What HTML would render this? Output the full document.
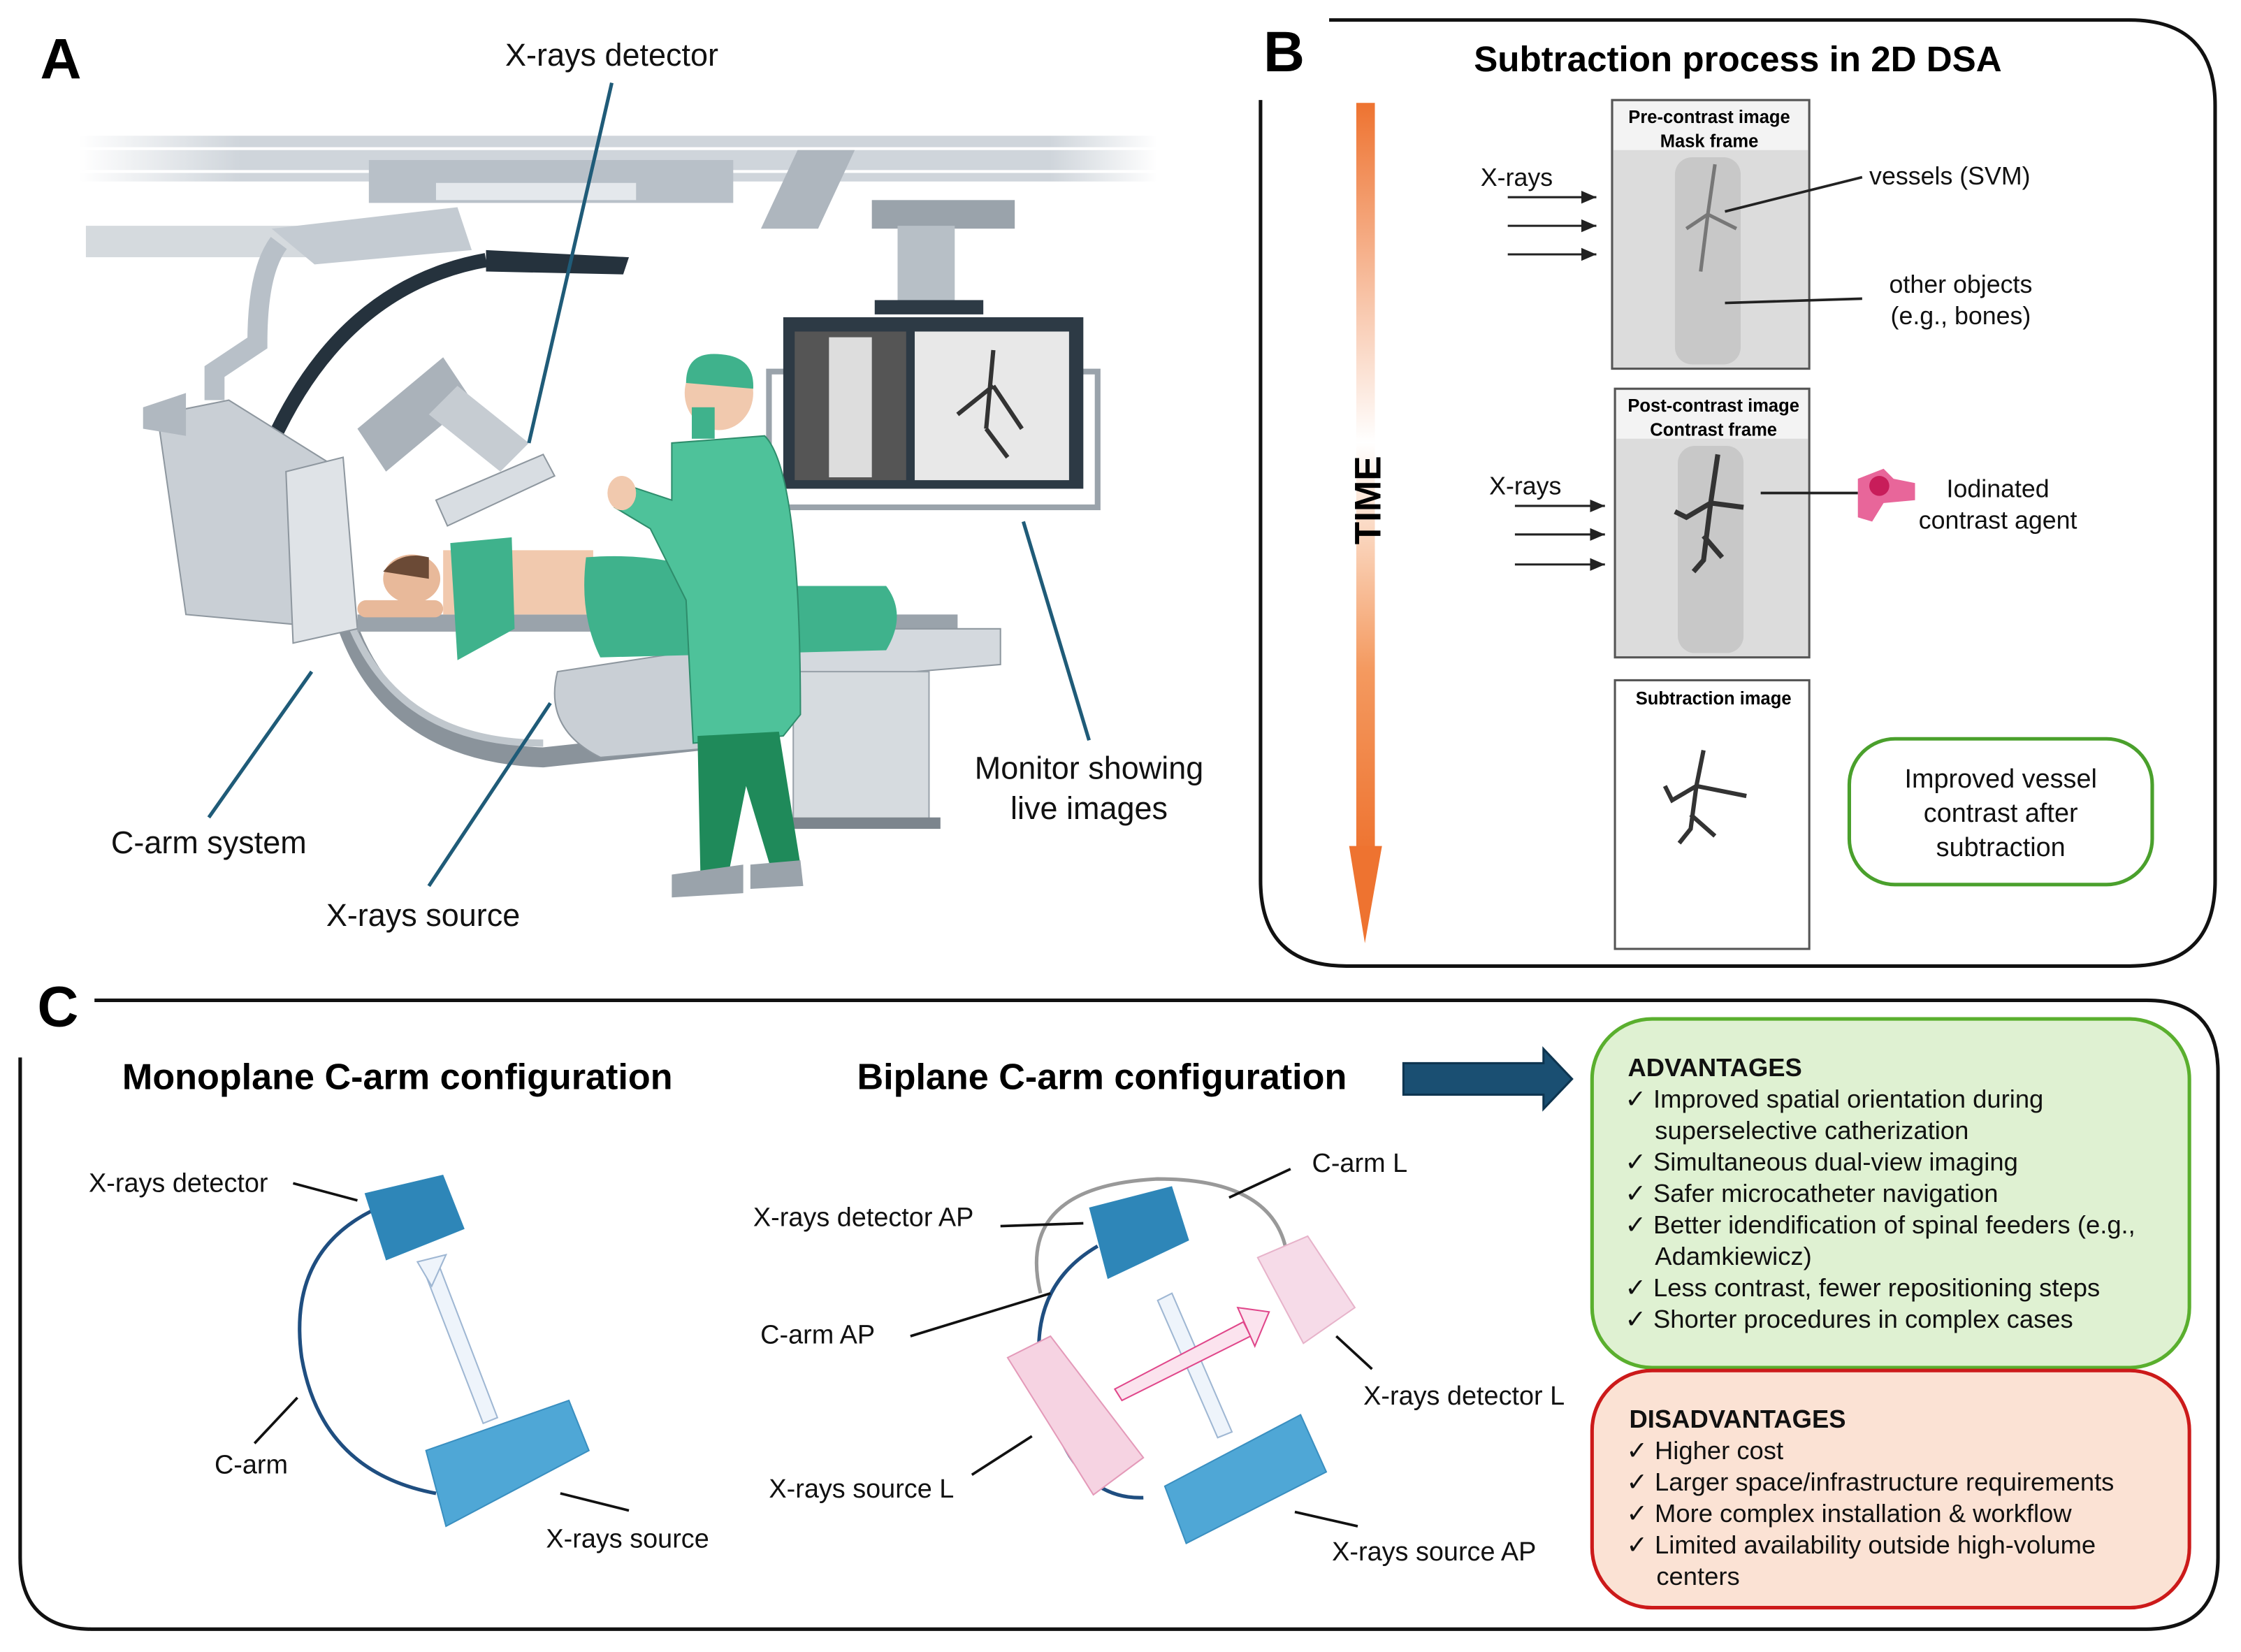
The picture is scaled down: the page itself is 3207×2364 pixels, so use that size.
<!DOCTYPE html>
<html><head><meta charset="utf-8"><style>
html,body{margin:0;padding:0;background:#fff;}
svg{display:block;}
text{font-family:"Liberation Sans",sans-serif;}
</style></head><body>
<svg width="3207" height="2364" viewBox="0 0 1568 1156" xmlns="http://www.w3.org/2000/svg">
<defs>
<linearGradient id="og" x1="0" y1="0" x2="0" y2="1">
<stop offset="0" stop-color="#ee7330"/><stop offset="0.45" stop-color="#fff"/><stop offset="0.75" stop-color="#f49a60"/><stop offset="1" stop-color="#ee7330"/></linearGradient>
<linearGradient id="rail" x1="0" y1="0" x2="1" y2="0"><stop offset="0" stop-color="#fff"/><stop offset="0.15" stop-color="#cfd5db"/><stop offset="0.9" stop-color="#cfd5db"/><stop offset="1" stop-color="#fff"/></linearGradient>
<marker id="ah" markerWidth="8" markerHeight="8" refX="7" refY="4" orient="auto"><path d="M0,1 L7,4 L0,7 z" fill="#222"/></marker>
</defs>
<rect width="1568" height="1156" fill="#fff"/>

<!-- ============ PANEL A ============ -->
<text x="28" y="55" font-size="40" font-weight="bold">A</text>
<rect x="55" y="95" width="755" height="8" fill="url(#rail)"/>
<rect x="55" y="105" width="755" height="14" fill="url(#rail)"/>
<rect x="55" y="121" width="755" height="6" fill="url(#rail)"/>
<rect x="60" y="158" width="180" height="22" fill="#d5dade"/>
<rect x="258" y="112" width="255" height="30" fill="#b8c0c8"/>
<rect x="305" y="128" width="140" height="12" fill="#e4e8ec"/>
<rect x="607" y="105" width="40" height="55" fill="#aeb6be" transform="skewX(-25)"/>
<rect x="610" y="140" width="100" height="20" fill="#9aa3ab"/>
<rect x="628" y="158" width="40" height="55" fill="#b7bfc6"/>
<rect x="612" y="210" width="76" height="10" fill="#2d3a45"/>
<rect x="538" y="260" width="230" height="95" fill="none" stroke="#9aa3ab" stroke-width="4"/>
<rect x="548" y="222" width="210" height="120" fill="#2d3a45"/>
<rect x="556" y="232" width="78" height="104" fill="#555"/>
<rect x="640" y="232" width="108" height="104" fill="#e8e8e8"/>
<rect x="580" y="236" width="30" height="98" fill="#ddd"/>
<path d="M695,245 L690,300 M695,270 L670,290 M695,270 L715,300 M690,300 L705,320" stroke="#333" stroke-width="3" fill="none"/>
<path d="M190,160 L320,145 L330,175 L220,185 Z" fill="#c4cbd2"/>
<path d="M195,170 Q180,190 180,240 L150,260 L150,280" stroke="#b8c0c8" stroke-width="14" fill="none"/>
<path d="M340,182 Q240,200 190,310" stroke="#25323d" stroke-width="10" fill="none"/>
<path d="M340,175 L440,180 L436,192 L340,190 Z" fill="#25323d"/>
<path d="M230,370 Q240,525 380,530 L520,515" stroke="#8a939b" stroke-width="14" fill="none"/>
<path d="M230,370 Q245,520 380,520" stroke="#c0c7cd" stroke-width="5" fill="none"/>
<path d="M110,290 L160,280 L240,330 L240,440 L130,430 Z" fill="#c9cfd5" stroke="#8e979f"/>
<path d="M100,285 L130,275 L130,305 L100,300 Z" fill="#b0b8c0"/>
<path d="M200,330 L240,320 L250,440 L205,450 Z" fill="#dfe3e7" stroke="#8e979f"/>
<path d="M250,300 L310,250 L330,280 L270,330 Z" fill="#aab2ba"/>
<path d="M300,290 L350,330 L370,310 L320,270 Z" fill="#c6ccd2"/>
<path d="M305,350 L380,318 L388,333 L313,368 Z" fill="#d8dde2" stroke="#8e979f"/>
<path d="M390,470 L520,450 L540,520 L420,530 Q380,510 390,470 Z" fill="#c9cfd5" stroke="#8e979f"/>
<rect x="250" y="430" width="420" height="12" fill="#9aa3ab"/>
<path d="M540,440 L700,440 L700,465 L640,470 L540,470 Z" fill="#d4d9de" stroke="#8e979f"/>
<rect x="555" y="470" width="95" height="105" fill="#d6dbdf" stroke="#9aa3ab"/>
<rect x="540" y="572" width="118" height="8" fill="#7c858d"/>
<ellipse cx="288" cy="405" rx="20" ry="17" fill="#e8b99a"/>
<path d="M268,400 Q280,385 300,390 L300,405 Z" fill="#6b4a36"/>
<rect x="250" y="420" width="60" height="12" rx="6" fill="#e8b99a"/>
<path d="M310,385 L415,385 L415,430 L310,430 Z" fill="#f1c9ae"/>
<path d="M315,380 L358,376 L360,440 L320,462 Z" fill="#3fb28c"/>
<path d="M410,390 Q470,385 520,410 L620,410 Q635,430 620,455 L420,460 Q405,430 410,390 Z" fill="#3fb28c"/>
<ellipse cx="503" cy="275" rx="24" ry="26" fill="#f1c9ae"/>
<path d="M480,268 Q480,245 505,248 Q528,250 527,272 Z" fill="#3fb28c"/>
<rect x="484" y="285" width="16" height="22" fill="#3fb28c"/>
<path d="M470,310 L535,305 Q560,330 560,500 L548,515 L485,520 L480,420 L455,370 L430,355 L440,340 L470,350 Z" fill="#4ec29a" stroke="#2e8d6c"/>
<path d="M488,515 L545,512 L560,605 L540,610 L522,550 L510,610 L490,610 Z" fill="#1f8a5a"/>
<path d="M470,612 L520,605 L520,625 L470,628 Z" fill="#9aa3ab"/>
<path d="M525,605 L560,602 L562,620 L525,622 Z" fill="#9aa3ab"/>
<ellipse cx="435" cy="345" rx="10" ry="12" fill="#f1c9ae"/>
<g stroke="#1f5b78" stroke-width="2.5">
<line x1="428" y1="58" x2="370" y2="310"/>
<line x1="218" y1="470" x2="146" y2="572"/>
<line x1="385" y1="492" x2="300" y2="620"/>
<line x1="716" y1="365" x2="762" y2="518"/>
</g>
<g font-size="22" fill="#111" text-anchor="middle">
<text x="428" y="46">X-rays detector</text>
<text x="146" y="597">C-arm system</text>
<text x="296" y="648">X-rays source</text>
<text x="762" y="545">Monitor showing</text>
<text x="762" y="573">live images</text>
</g>

<!-- ============ PANEL B ============ -->
<path d="M930,14 L1490,14 Q1550,14 1550,74 L1550,616 Q1550,676 1490,676 L942,676 Q882,676 882,616 L882,70" fill="none" stroke="#111" stroke-width="2.5"/>
<text x="884" y="50" font-size="40" font-weight="bold">B</text>
<text x="1216" y="50" font-size="25" font-weight="bold" text-anchor="middle">Subtraction process in 2D DSA</text>
<rect x="949" y="72" width="13" height="528" fill="url(#og)"/>
<path d="M944,592 L967,592 L955,660 Z" fill="#ee7330"/>
<text transform="translate(966,350) rotate(-90)" font-size="26" font-weight="bold" text-anchor="middle">TIME</text>
<rect x="1128" y="70" width="138" height="188" fill="#dcdcdc" stroke="#555" stroke-width="1.5"/>
<rect x="1129" y="71" width="136" height="34" fill="#f3f3f3"/>
<rect x="1172" y="110" width="46" height="145" fill="#c8c8c8" rx="12"/>
<path d="M1200,115 L1195,150 L1180,160 M1195,150 L1215,160 M1195,150 L1190,190" stroke="#777" stroke-width="2.5" fill="none"/>
<text x="1196" y="86" font-size="12.5" font-weight="bold" text-anchor="middle">Pre-contrast image</text>
<text x="1196" y="103" font-size="12.5" font-weight="bold" text-anchor="middle">Mask frame</text>
<rect x="1130" y="272" width="136" height="188" fill="#dcdcdc" stroke="#555" stroke-width="1.5"/>
<rect x="1131" y="273" width="134" height="34" fill="#f3f3f3"/>
<rect x="1174" y="312" width="46" height="145" fill="#c8c8c8" rx="12"/>
<path d="M1202,318 L1197,352 L1180,362 L1172,358 M1197,352 L1220,355 M1197,352 L1192,392 L1185,400 M1192,375 L1205,390" stroke="#333" stroke-width="3.5" fill="none"/>
<text x="1199" y="288" font-size="12.5" font-weight="bold" text-anchor="middle">Post-contrast image</text>
<text x="1199" y="305" font-size="12.5" font-weight="bold" text-anchor="middle">Contrast frame</text>
<rect x="1130" y="476" width="136" height="188" fill="#fff" stroke="#555" stroke-width="1.5"/>
<path d="M1192,525 L1187,550 L1170,560 L1165,550 M1187,550 L1222,557 M1187,550 L1183,580 L1175,590 M1183,570 L1200,585" stroke="#333" stroke-width="3" fill="none"/>
<text x="1199" y="493" font-size="12.5" font-weight="bold" text-anchor="middle">Subtraction image</text>
<g stroke="#222" stroke-width="1.5" marker-end="url(#ah)">
<line x1="1055" y1="138" x2="1117" y2="138"/><line x1="1055" y1="158" x2="1117" y2="158"/><line x1="1055" y1="178" x2="1117" y2="178"/>
<line x1="1060" y1="354" x2="1123" y2="354"/><line x1="1060" y1="374" x2="1123" y2="374"/><line x1="1060" y1="395" x2="1123" y2="395"/>
</g>
<g stroke="#222" stroke-width="1.8">
<line x1="1207" y1="148" x2="1303" y2="124"/>
<line x1="1207" y1="212" x2="1303" y2="209"/>
<line x1="1232" y1="345" x2="1300" y2="345"/>
</g>
<path d="M1300,335 L1318,328 L1325,335 L1340,338 L1340,350 L1318,352 L1310,365 L1300,362 Z" fill="#e8669a"/>
<circle cx="1315" cy="340" r="7" fill="#c81d5a"/>
<g font-size="17.5" fill="#111">
<text x="1036" y="130">X-rays</text>
<text x="1042" y="346">X-rays</text>
<text x="1308" y="129">vessels (SVM)</text>
<text x="1372" y="205" text-anchor="middle">other objects</text>
<text x="1372" y="227" text-anchor="middle">(e.g., bones)</text>
<text x="1398" y="348" text-anchor="middle">Iodinated</text>
<text x="1398" y="370" text-anchor="middle">contrast agent</text>
</g>
<rect x="1294" y="517" width="212" height="102" rx="32" fill="#fff" stroke="#4aa02c" stroke-width="2.5"/>
<g font-size="18.5" fill="#111" text-anchor="middle">
<text x="1400" y="551">Improved vessel</text>
<text x="1400" y="575">contrast after</text>
<text x="1400" y="599">subtraction</text>
</g>

<!-- ============ PANEL C ============ -->
<path d="M66,700 L1502,700 Q1552,700 1552,750 L1552,1090 Q1552,1140 1502,1140 L64,1140 Q14,1140 14,1090 L14,740" fill="none" stroke="#111" stroke-width="2.5"/>
<text x="26" y="718" font-size="40" font-weight="bold">C</text>
<text x="278" y="762" font-size="25.5" font-weight="bold" text-anchor="middle">Monoplane C-arm configuration</text>
<text x="771" y="762" font-size="25.5" font-weight="bold" text-anchor="middle">Biplane C-arm configuration</text>
<path d="M982,744 L1080,744 L1080,734 L1100,755 L1080,776 L1080,766 L982,766 Z" fill="#1a4f72" stroke="#0e3550" stroke-width="1.5"/>
<path d="M272,842 Q200,870 211,950 Q225,1030 305,1045" fill="none" stroke="#1f4e80" stroke-width="2.5"/>
<path d="M255,835 L310,822 L325,860 L270,882 Z" fill="#2e86b8"/>
<path d="M295,885 L305,880 L348,992 L338,996 Z" fill="#eef4fb" stroke="#9fb7d3"/>
<path d="M292,883 L302,900 L312,878 Z" fill="#eef4fb" stroke="#9fb7d3"/>
<path d="M298,1015 L398,980 L412,1015 L312,1068 Z" fill="#4fa7d6" stroke="#3a8fc0"/>
<g stroke="#111" stroke-width="1.8">
<line x1="205" y1="828" x2="250" y2="840"/>
<line x1="178" y1="1010" x2="208" y2="978"/>
<line x1="392" y1="1045" x2="440" y2="1057"/>
</g>
<g font-size="18.5" fill="#111">
<text x="62" y="834">X-rays detector</text>
<text x="150" y="1031">C-arm</text>
<text x="382" y="1083">X-rays source</text>
</g>
<path d="M728,905 Q710,830 810,825 Q890,825 900,875" fill="none" stroke="#999" stroke-width="2.5"/>
<path d="M768,872 Q720,900 728,960 Q745,1050 800,1048" fill="none" stroke="#1f4e80" stroke-width="2.5"/>
<path d="M762,845 L820,830 L832,868 L775,895 Z" fill="#2e86b8"/>
<path d="M880,880 L915,865 L948,915 L912,940 Z" fill="#f6dbe8" stroke="#e7b3ca"/>
<path d="M705,950 L735,935 L800,1020 L765,1046 Z" fill="#f6d3e2" stroke="#e49ab9"/>
<path d="M815,1040 L910,990 L928,1030 L830,1080 Z" fill="#4fa7d6" stroke="#3a8fc0"/>
<path d="M810,910 L820,905 L862,1002 L852,1006 Z" fill="#eef4fb" stroke="#9fb7d3"/>
<path d="M780,972 L870,925 L875,935 L785,980 Z" fill="#fbe3ee" stroke="#e0468a"/>
<path d="M866,915 L888,918 L878,942 Z" fill="#fbe3ee" stroke="#e0468a"/>
<g stroke="#111" stroke-width="1.8">
<line x1="700" y1="858" x2="758" y2="856"/>
<line x1="637" y1="935" x2="735" y2="905"/>
<line x1="860" y1="838" x2="903" y2="818"/>
<line x1="935" y1="935" x2="960" y2="958"/>
<line x1="680" y1="1032" x2="722" y2="1005"/>
<line x1="906" y1="1058" x2="950" y2="1068"/>
</g>
<g font-size="18.5" fill="#111">
<text x="527" y="858">X-rays detector AP</text>
<text x="532" y="940">C-arm AP</text>
<text x="918" y="820">C-arm L</text>
<text x="954" y="983">X-rays detector L</text>
<text x="538" y="1048">X-rays source L</text>
<text x="932" y="1092">X-rays source AP</text>
</g>
<rect x="1114" y="713" width="418" height="244" rx="42" fill="#dff1d2" stroke="#5aaf2e" stroke-width="2.5"/>
<g font-size="17.8" fill="#111">
<text x="1139" y="753" font-weight="bold">ADVANTAGES</text>
<text x="1137" y="775">✓ Improved spatial orientation during</text>
<text x="1158" y="797">superselective catherization</text>
<text x="1137" y="819">✓ Simultaneous dual-view imaging</text>
<text x="1137" y="841">✓ Safer microcatheter navigation</text>
<text x="1137" y="863">✓ Better idendification of spinal feeders (e.g.,</text>
<text x="1158" y="885">Adamkiewicz)</text>
<text x="1137" y="907">✓ Less contrast, fewer repositioning steps</text>
<text x="1137" y="929">✓ Shorter procedures in complex cases</text>
</g>
<rect x="1114" y="959" width="418" height="166" rx="42" fill="#fbe2d4" stroke="#cc1a1a" stroke-width="2.5"/>
<g font-size="17.8" fill="#111">
<text x="1140" y="999" font-weight="bold">DISADVANTAGES</text>
<text x="1138" y="1021">✓ Higher cost</text>
<text x="1138" y="1043">✓ Larger space/infrastructure requirements</text>
<text x="1138" y="1065">✓ More complex installation &amp; workflow</text>
<text x="1138" y="1087">✓ Limited availability outside high-volume</text>
<text x="1159" y="1109">centers</text>
</g>
</svg>
</body></html>
